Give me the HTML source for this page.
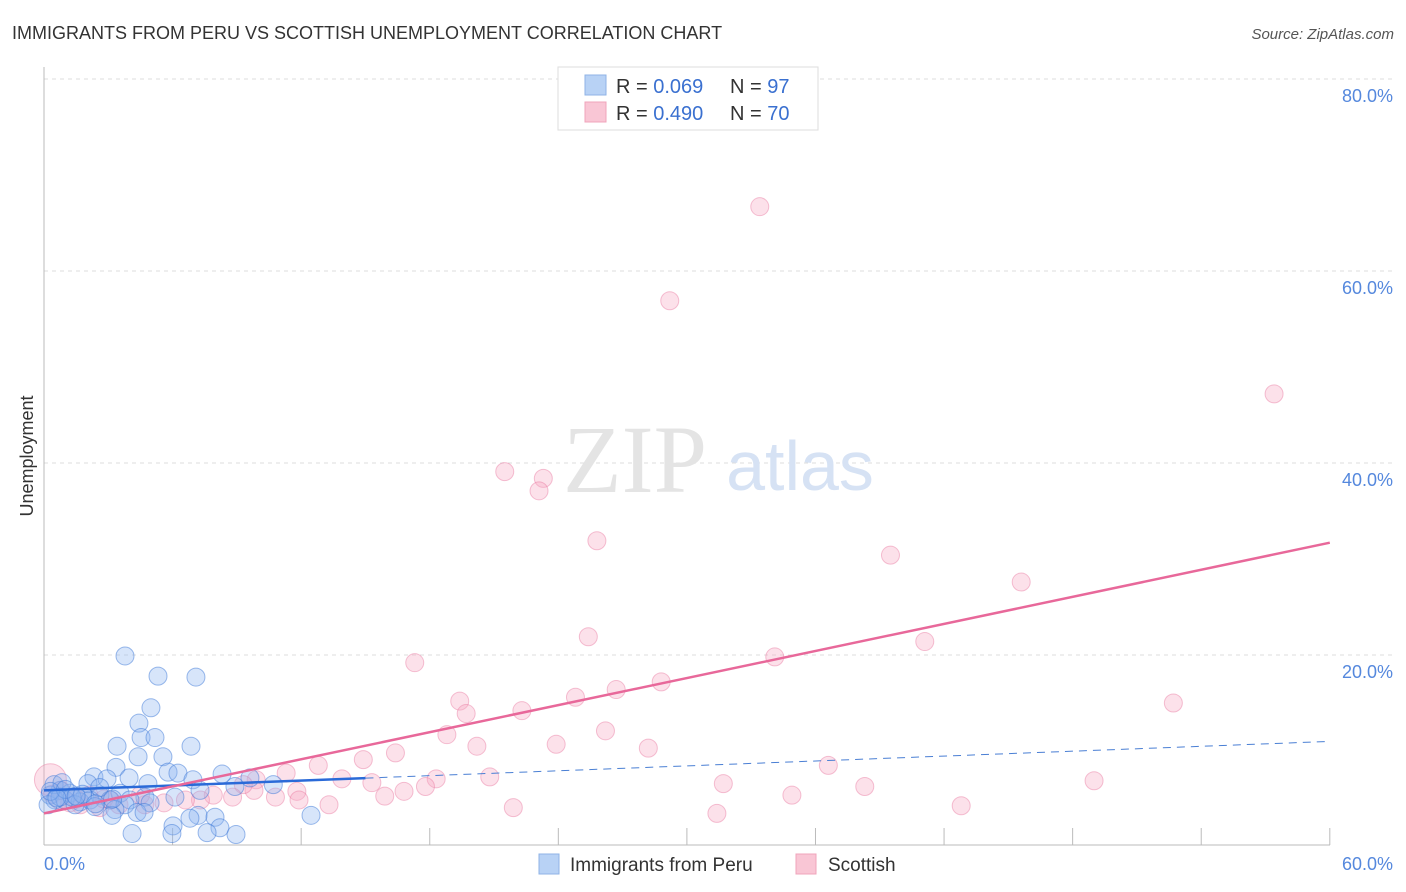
<!DOCTYPE html>
<html><head><meta charset="utf-8"><style>
body{margin:0;background:#fff;font-family:"Liberation Sans",sans-serif}
svg{display:block}
</style></head><body>
<svg width="1406" height="892" viewBox="0 0 1406 892">
<text x="12" y="39" font-size="18" fill="#333">IMMIGRANTS FROM PERU VS SCOTTISH UNEMPLOYMENT CORRELATION CHART</text>
<text x="1394" y="39" font-size="15" fill="#555" font-style="italic" text-anchor="end">Source: ZipAtlas.com</text>
<g id="grid"></g>
<text x="635" y="492" font-size="96" font-family="Liberation Serif,serif" fill="#e4e4e4" text-anchor="middle">ZIP</text>
<text x="800" y="490" font-size="70" fill="#d6e2f4" text-anchor="middle">atlas</text>
<g id="axes"></g>
<g id="pink"></g>
<g id="blue"></g>
<g id="lines"></g>
<text transform="translate(33,456) rotate(-90)" font-size="18" fill="#333" text-anchor="middle">Unemployment</text>
<text x="44" y="870" font-size="18" fill="#5588dd">0.0%</text>
<text x="1393" y="870" font-size="18" fill="#5588dd" text-anchor="end">60.0%</text>
<g>
<rect x="558" y="67" width="260" height="63" fill="#fff" stroke="#ddd"/>
<rect x="585" y="75" width="21" height="20" fill="#b8d2f5" stroke="#8fb3e6"/>
<rect x="585" y="102" width="21" height="20" fill="#f9c6d5" stroke="#f0a4bb"/>
<text x="616" y="93" font-size="20" fill="#333">R = <tspan fill="#3a70d0">0.069</tspan></text>
<text x="730" y="93" font-size="20" fill="#333">N = <tspan fill="#3a70d0">97</tspan></text>
<text x="616" y="120" font-size="20" fill="#333">R = <tspan fill="#3a70d0">0.490</tspan></text>
<text x="730" y="120" font-size="20" fill="#333">N = <tspan fill="#3a70d0">70</tspan></text>
</g>
<g>
<rect x="539" y="854" width="20" height="20" fill="#b8d2f5" stroke="#8fb3e6"/>
<text x="570" y="871" font-size="19" fill="#333">Immigrants from Peru</text>
<rect x="796" y="854" width="20" height="20" fill="#f9c6d5" stroke="#f0a4bb"/>
<text x="828" y="871" font-size="19" fill="#333">Scottish</text>
</g>
</svg>
<script>
const yTicks=[20,40,60,80];
const yTickLabels=["20.0%","40.0%","60.0%","80.0%"];
const xTicks=[0,6,12,18,24,30,36,42,48,54,60];
const blueX=[3.78,5.32,7.09,4.99,4.43,4.53,5.18,3.41,6.86,5.55,4.39,3.36,5.79,6.25,8.31,2.33,3.97,2.94,4.85,6.95,9.61,10.7,8.91,0.75,1.21,1.91,2.61,3.55,4.71,6.11,0.28,0.51,0.98,1.68,2.15,3.08,4.01,0.19,1.45,2.38,3.78,4.95,3.31,4.34,4.67,3.17,7.19,6.81,7.98,12.46,6.02,8.21,4.11,5.97,7.61,8.96,0.47,0.84,2.05,7.28,0.75,1.31,0.3,1.0,1.8,2.6,3.2,2.4,1.5,0.6];
const blueY=[19.9,17.8,17.7,14.5,12.9,11.4,11.4,10.5,10.5,9.4,9.4,8.3,7.8,7.7,7.6,7.3,7.2,7.1,6.6,7.0,7.2,6.5,6.3,5.9,5.6,5.2,5.4,5.6,5.2,5.2,5.4,4.9,4.9,4.7,4.9,4.9,4.9,4.4,4.4,4.2,4.4,4.6,3.9,3.6,3.6,3.3,3.3,3.0,3.1,3.3,2.2,2.0,1.4,1.4,1.5,1.3,6.5,6.7,6.6,5.9,5.2,5.2,5.8,6.0,5.5,6.2,5.0,4.5,5.3,5.1];
const pinkX=[33.4,29.2,57.4,21.5,23.3,23.1,25.8,39.5,45.6,25.4,41.1,17.3,34.1,28.8,26.7,24.8,19.4,52.7,19.7,22.3,18.8,26.2,23.9,20.2,28.2,16.4,14.9,12.8,36.6,20.8,18.3,13.9,49.0,15.3,11.3,31.7,17.8,38.3,16.8,15.9,34.9,11.8,13.3,21.9,42.8,31.4,10.8,9.9,9.8,9.3,8.8,7.9,7.3,6.6,5.6,4.7,3.5,2.6,1.7,0.7,0.3,0.8,2.1,3.1,4.5,11.9,1.2,2.8,0.4,1.5];
const pinkY=[66.7,56.9,47.2,39.1,38.4,37.1,31.9,30.4,27.6,21.9,21.4,19.2,19.8,17.2,16.4,15.6,15.2,15.0,13.9,14.2,11.7,12.1,10.7,10.5,10.3,9.8,9.1,8.5,8.5,7.3,7.1,7.1,6.9,6.7,7.7,6.6,6.3,6.3,5.8,5.3,5.4,5.8,4.4,4.1,4.3,3.5,5.2,7.0,5.9,6.5,5.2,5.4,4.9,4.9,4.6,4.4,4.4,4.1,4.4,4.9,7.0,5.9,5.4,4.9,5.4,4.9,4.6,5.0,5.5,5.0];
const blueTrend=[5.9,11.0];
const pinkTrend=[3.5,31.7];
const NS="http://www.w3.org/2000/svg";
const X=v=>44+v*21.43, Y=v=>847-v*9.6;
function mk(p,t,a){const e=document.createElementNS(NS,t);for(const k in a)e.setAttribute(k,a[k]);p.appendChild(e);return e;}
const grid=document.getElementById('grid'),axes=document.getElementById('axes');
yTicks.forEach((t,i)=>{
 const l=mk(grid,'line',{x1:44,x2:1393,y1:Y(t),y2:Y(t),stroke:'#ddd','stroke-dasharray':'4,4'});
 
 
 const tx=mk(grid,'text',{x:1393,y:Y(t)+23,'font-size':18,fill:'#5588dd','text-anchor':'end'});
 tx.textContent=yTickLabels[i];
 
 
});
mk(axes,'line',{x1:44,x2:44,y1:67,y2:845,stroke:'#bbb'});
mk(axes,'line',{x1:44,x2:1330,y1:845,y2:845,stroke:'#bbb'});
xTicks.forEach(t=>{const l=mk(axes,'line',{x1:X(t),x2:X(t),y1:828,y2:845,stroke:'#bbb'});
 
 });
const pg=document.getElementById('pink'),bg=document.getElementById('blue');
pinkX.forEach((x,i)=>{const c=mk(pg,'circle',{cx:X(x),cy:Y(pinkY[i]),r:(x<1&&pinkY[i]>6.5)?16:9,fill:'rgba(246,170,195,0.35)',stroke:'rgba(232,120,160,0.45)','stroke-width':1});
 
 });
blueX.forEach((x,i)=>{const c=mk(bg,'circle',{cx:X(x),cy:Y(blueY[i]),r:9,fill:'rgba(140,180,240,0.35)',stroke:'rgba(60,120,215,0.5)','stroke-width':1});
 
 });
const lg=document.getElementById('lines');
const bAt=x=>blueTrend[0]+(blueTrend[1]-blueTrend[0])*x/60;
let l1=mk(lg,'line',{x1:X(15),y1:Y(bAt(15)),x2:X(60),y2:Y(bAt(60)),stroke:'#4a7fd4','stroke-width':1,'stroke-dasharray':'8,6'});


let l2=mk(lg,'line',{x1:X(0),y1:Y(bAt(0)),x2:X(15),y2:Y(bAt(15)),stroke:'#2a6ad8','stroke-width':2.5});


let l3=mk(lg,'line',{x1:X(0),y1:Y(pinkTrend[0]),x2:X(60),y2:Y(pinkTrend[1]),stroke:'#e8689a','stroke-width':2.5});


</script>
</body></html>
